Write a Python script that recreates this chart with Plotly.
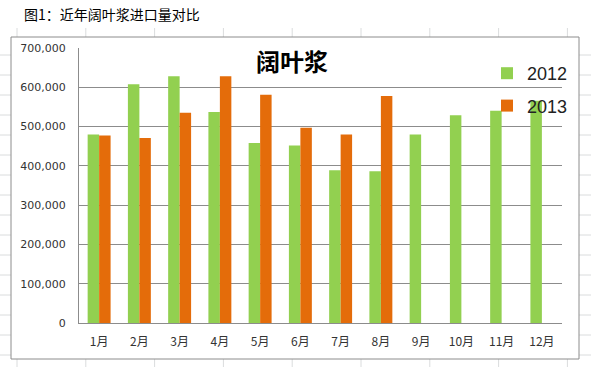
import plotly.graph_objects as go

months = ["1月", "2月", "3月", "4月", "5月", "6月", "7月", "8月", "9月", "10月", "11月", "12月"]
vals_2012 = [480000, 608000, 628000, 537000, 458000, 452000, 389000, 386000, 480000, 529000, 540000, 566000]
vals_2013 = [477000, 471000, 535000, 628000, 581000, 497000, 480000, 578000]
series_names = ["2012", "2013"]
y_ticks = [0, 100000, 200000, 300000, 400000, 500000, 600000, 700000]
title_text = "阔叶浆"
caption_text = "图1：近年阔叶浆进口量对比"

W, H = 591, 367
L, R, T, B = 79, 562, 48, 323  # plot area in pixels


def px_x(p):
    return (p - L) / (R - L)


def px_y(p):
    return (B - p) / (B - T)


fig = go.Figure()
fig.add_trace(go.Bar(x=months, y=vals_2012, name=series_names[0], marker_color="#92D050",
                     marker_line_width=0, legendgroup="a"))
fig.add_trace(go.Bar(x=months[:len(vals_2013)], y=vals_2013, name=series_names[1],
                     marker_color="#E46C0A", marker_line_width=0, legendgroup="b"))

shapes = []
grid_col = "#DADCDD"
# spreadsheet background grid (decorative)
for i in range(9):
    gx = 17 + 68.8 * i
    shapes.append(dict(type="line", xref="paper", yref="paper", x0=px_x(gx), x1=px_x(gx),
                       y0=px_y(28), y1=px_y(367), line=dict(color=grid_col, width=1), layer="below"))
for j in range(16):
    gy = 55 + 20 * j
    shapes.append(dict(type="line", xref="paper", yref="paper", x0=px_x(0), x1=px_x(591),
                       y0=px_y(gy), y1=px_y(gy), line=dict(color=grid_col, width=1), layer="below"))
# chart frame
shapes.append(dict(type="rect", xref="paper", yref="paper", x0=px_x(11), x1=px_x(579),
                   y0=px_y(359), y1=px_y(37), fillcolor="white",
                   line=dict(color="#8C8C8C", width=1), layer="below"))

fig.update_layout(
    width=W, height=H,
    margin=dict(l=L, r=W - R, t=T, b=H - B, pad=0),
    paper_bgcolor="white",
    plot_bgcolor="rgba(0,0,0,0)",
    barmode="group",
    bargap=0.43,
    bargroupgap=0,
    shapes=shapes,
    title=dict(text=title_text, x=292 / W, xanchor="center", y=1 - 63 / H, yanchor="middle",
               font=dict(family="Noto Sans CJK SC", size=24, color="#000000", weight="bold")),
    legend=dict(x=px_x(487), y=px_y(55), xanchor="left", yanchor="top",
                bgcolor="rgba(0,0,0,0)", tracegroupgap=6, itemwidth=30,
                font=dict(family="Liberation Sans", size=18, color="#222222")),
    annotations=[dict(text=caption_text, xref="paper", yref="paper", x=px_x(22), y=px_y(14),
                      xanchor="left", yanchor="middle", showarrow=False,
                      font=dict(family="Noto Sans CJK SC", size=14, color="#000000"))],
    font=dict(family="Noto Sans CJK SC"),
)

fig.update_yaxes(range=[0, 700000], tickvals=y_ticks, tickformat=",", showgrid=True,
                 gridcolor="#8C8C8C", gridwidth=1, showline=True, linecolor="#8C8C8C",
                 linewidth=1, zeroline=False, ticks="", ticklabelstandoff=10,
                 tickfont=dict(family="DejaVu Sans", size=11, color="#333333"))
fig.update_xaxes(showline=True, linecolor="#8C8C8C", linewidth=1, ticks="",
                 ticklabelstandoff=8, showgrid=False,
                 tickfont=dict(family="Noto Sans CJK SC", size=12, color="#333333"))

fig.write_html("out.html", config={"displayModeBar": False},
               post_script="document.body.style.margin='0';document.body.style.overflow='hidden';")
